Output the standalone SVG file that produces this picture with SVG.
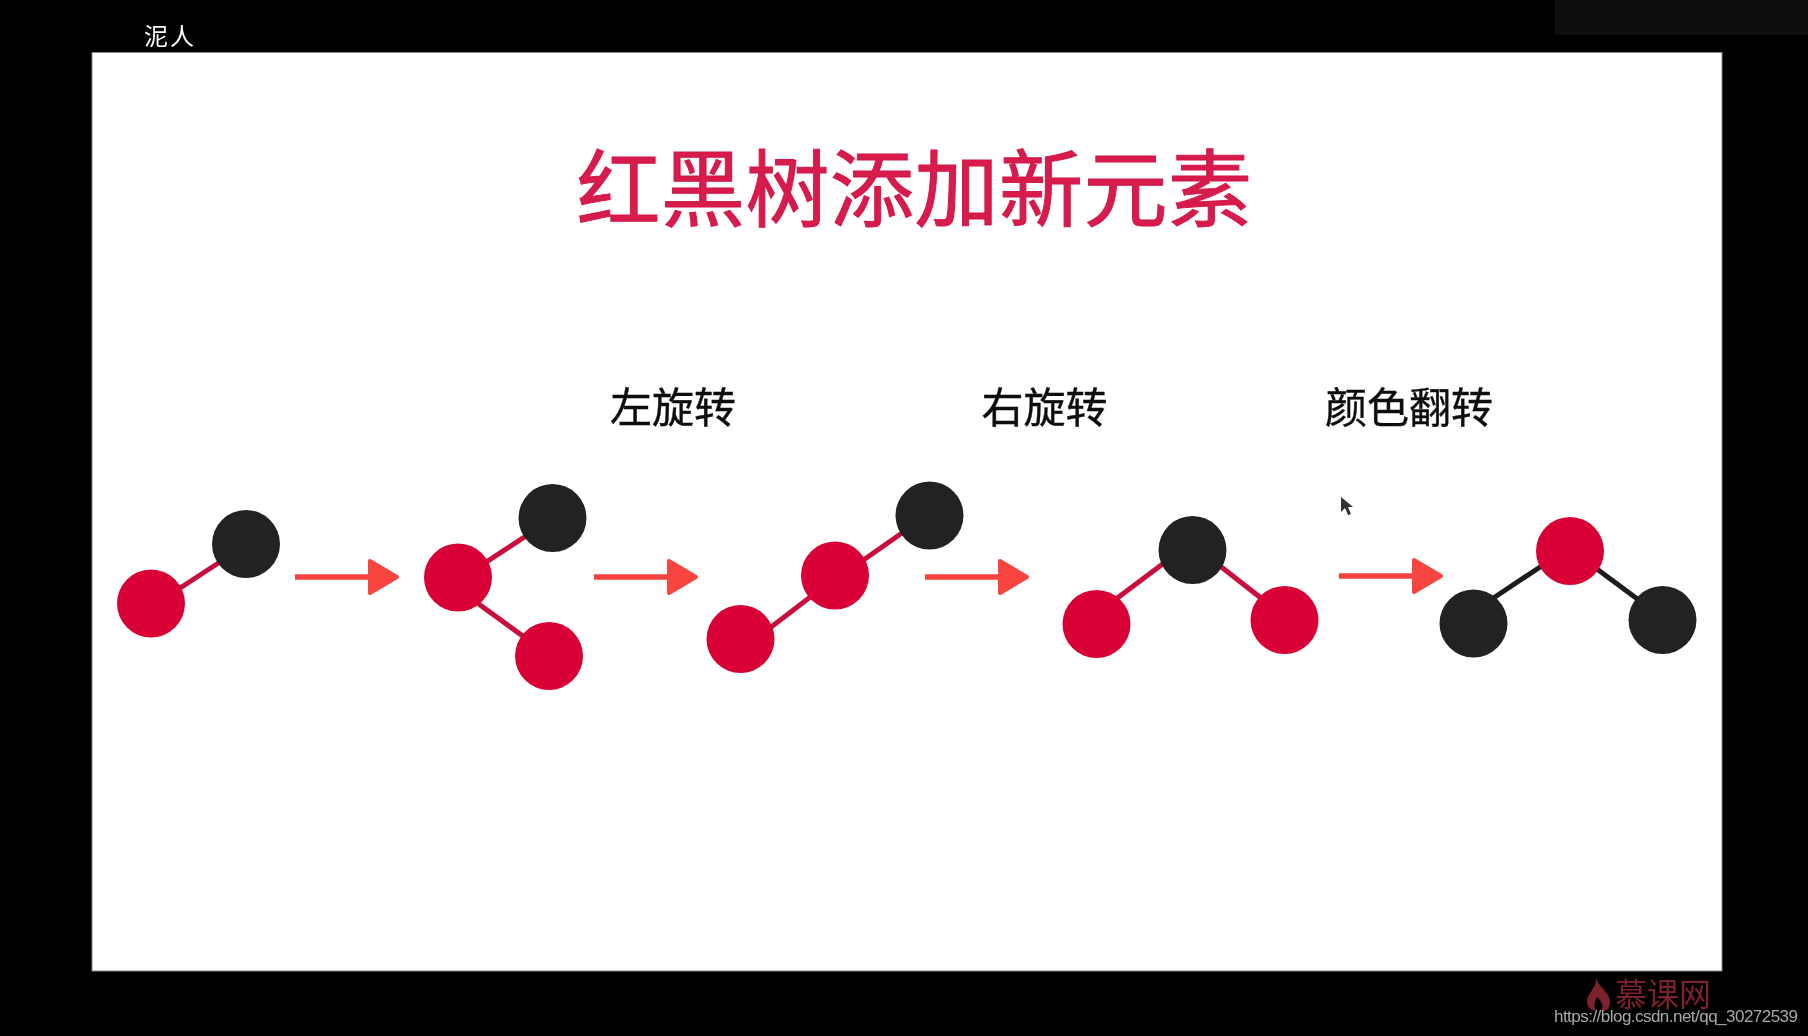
<svg xmlns="http://www.w3.org/2000/svg" width="1808" height="1036" viewBox="0 0 1808 1036">
<defs>
<style>
.cjk{font-family:"Liberation Sans","Noto Sans CJK SC",sans-serif}
.r{fill:#d90636}.k{fill:#212121}
.lr{stroke:#c90a3c;stroke-width:5;fill:none}.lk{stroke:#1f1f1f;stroke-width:5;fill:none}
.a{stroke:#f4433f;stroke-width:5.500;fill:none}.h{fill:#f8443f;stroke:#f8443f;stroke-width:4;stroke-linejoin:round}
.lab{font-size:42px;fill:#111;text-anchor:middle;stroke:#111;stroke-width:.4}
</style>
<filter id="s" x="-5%" y="-5%" width="110%" height="110%"><feGaussianBlur stdDeviation="0.7"/></filter>
<filter id="b" x="-5%" y="-5%" width="110%" height="110%"><feGaussianBlur stdDeviation="0.6"/></filter>
<marker id="ah" markerUnits="userSpaceOnUse" markerWidth="34" markerHeight="40" refX="2" refY="20" orient="auto"><path class="h" d="M3 4L30 20L3 36Z"/></marker>
</defs>
<rect width="1808" height="1036" fill="#000"/>
<rect x="1555" y="0" width="253" height="35" fill="#0e0e0c"/>
<rect x="92" y="52.500" width="1630" height="918.500" fill="#fff" stroke="#8a8a8a" stroke-width="1"/>
<text x="144" y="45" font-size="24" fill="#fff" font-family="'Liberation Serif','Noto Sans CJK SC',serif" filter="url(#b)" letter-spacing="2">泥人</text>
<text id="title" class="cjk" x="914.500" y="220" font-size="84" fill="#d61a4b" stroke="#d61a4b" stroke-width="1" text-anchor="middle" letter-spacing="0.500" filter="url(#s)">红黑树添加新元素</text>
<g filter="url(#b)">
<text id="label-left" class="cjk lab" x="673" y="423">左旋转</text>
<text id="label-right" class="cjk lab" x="1044.500" y="423">右旋转</text>
<text id="label-flip" class="cjk lab" x="1409" y="423">颜色翻转</text>
</g>
<g id="connectors" filter="url(#s)">
<path class="lr" d="M151 607L246 545"/>
<path class="lr" d="M458 580.500L552 519M458 589L549 655"/>
<path class="lr" d="M740 651L835 578M835 580L929 514"/>
<path class="lr" d="M1096 614L1192 542M1192 544L1284 616"/>
<path class="lk" d="M1474 611L1570 547M1570 549L1663 618"/>
<path class="a" d="M295 577H369" marker-end="url(#ah)"/>
<path class="a" d="M594 577H668" marker-end="url(#ah)"/>
<path class="a" d="M925 577H999" marker-end="url(#ah)"/>
<path class="a" d="M1339 576H1413" marker-end="url(#ah)"/>
</g>
<g filter="url(#s)">
<g id="n1"><circle class="r" cx="151" cy="603.500" r="34"/></g>
<g id="n2"><circle class="k" cx="246" cy="544" r="34"/></g>
<g id="n3"><circle class="r" cx="458" cy="577.500" r="34"/></g>
<g id="n4"><circle class="k" cx="552.500" cy="518" r="34"/></g>
<g id="n5"><circle class="r" cx="549" cy="656" r="34"/></g>
<g id="n6"><circle class="r" cx="740.500" cy="639" r="34"/></g>
<g id="n7"><circle class="r" cx="835" cy="575.500" r="34"/></g>
<g id="n8"><circle class="k" cx="929.500" cy="515.500" r="34"/></g>
<g id="n9"><circle class="k" cx="1192.500" cy="550" r="34"/></g>
<g id="n10"><circle class="r" cx="1096.500" cy="624" r="34"/></g>
<g id="n11"><circle class="r" cx="1284.500" cy="620" r="34"/></g>
<g id="n12"><circle class="r" cx="1570" cy="551" r="34"/></g>
<g id="n13"><circle class="k" cx="1473.500" cy="623.500" r="34"/></g>
<g id="n14"><circle class="k" cx="1662.500" cy="620" r="34"/></g>
</g>
<path d="M1341 497L1341 512L1345 508L1348 515L1351 514L1348 507L1353 507Z" fill="#333" filter="url(#s)"/>
<g filter="url(#b)">
<path d="M1596 978C1598 986 1611 994 1610 1002C1610 1009 1606 1012 1601 1011C1605 1005 1600 1000 1597 997C1595 1001 1593 1005 1596 1011C1590 1010 1587 1007 1587 1001C1587 996 1591 993 1593 988C1595 986 1596 983 1596 978Z" fill="#7b2029"/>
<text class="cjk" x="1615" y="1006" font-size="32" fill="#7b2029">慕课网</text>
</g>
<text x="1554" y="1022" font-size="17" fill="#a8a8a8" font-family="'Liberation Sans',sans-serif" textLength="244" style="filter:blur(.3px)">https://blog.csdn.net/qq_30272539</text>
</svg>
